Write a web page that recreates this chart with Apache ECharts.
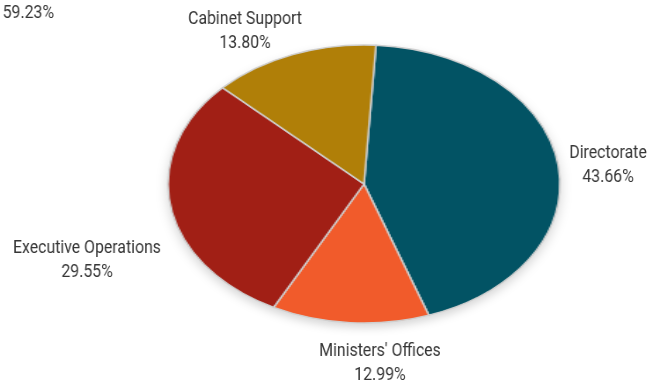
<!DOCTYPE html>
<html>
<head>
<meta charset="utf-8">
<script src="https://cdn.jsdelivr.net/npm/echarts@6/dist/echarts.min.js"></script>
<style>
  html, body { margin: 0; padding: 0; background: #ffffff; }
  #wrap { position: relative; width: 657px; height: 388px; overflow: hidden; }
  #pie, #labels { position: absolute; left: 0; top: 0; width: 657px; height: 388px; }
  /* the disc is drawn as a circle and widened into an ellipse */
  #pie {
    transform: scaleX(1.41);
    transform-origin: 364px 184px;
    filter: drop-shadow(0 4px 4px rgba(0,0,0,0.16));
  }
  /* labels are set in a condensed cut */
  #labels { width: 750px; transform: scaleX(0.88); transform-origin: 0 0; }
</style>
</head>
<body>
<div id="wrap">
  <div id="pie"></div>
  <div id="labels"></div>
</div>
<script>
// Budget share by area (percent)
const categories = ['Directorate', "Ministers' Offices", 'Executive Operations', 'Cabinet Support'];
const shares = [43.66, 12.99, 29.55, 13.80];
const sliceColors = ['#025364', '#F15B2B', '#A11F15', '#B07F08'];
const strayLabel = '59.23%';

const FONT = 'Roboto, "DejaVu Sans", sans-serif';
const CX = 364, CY = 184, R = 139;
const START = 86.5;
const SQUEEZE = 0.88;

// centres of the label blocks, one per category (screen pixels)
const labelAnchors = [[608, 165], [380, 363], [87, 260], [245, 31]];

const sliceData = categories.map((name, i) => ({
  name: name,
  value: shares[i],
  itemStyle: { color: sliceColors[i] }
}));
const labelData = categories.map((name, i) => ({ name: name, value: shares[i] }));

const pieChart = echarts.init(document.getElementById('pie'), null, { renderer: 'canvas' });
pieChart.setOption({
  animation: false,
  series: [{
    type: 'pie',
    center: [CX, CY],
    radius: R,
    startAngle: START,
    clockwise: true,
    label: { show: false },
    labelLine: { show: false },
    itemStyle: { borderColor: '#cfcfcf', borderWidth: 1.3 },
    data: sliceData
  }]
});

// invisible twin of the pie that only carries the text labels
const labelChart = echarts.init(document.getElementById('labels'), null, { renderer: 'canvas' });
labelChart.setOption({
  animation: false,
  graphic: [{
    type: 'text',
    x: 54 / SQUEEZE,
    y: 13,
    style: {
      text: strayLabel,
      fill: '#363636',
      font: '18px ' + FONT,
      textAlign: 'right',
      textVerticalAlign: 'middle'
    }
  }],
  series: [{
    type: 'pie',
    silent: true,
    center: [CX / SQUEEZE, CY],
    radius: R,
    startAngle: START,
    clockwise: true,
    itemStyle: { color: 'rgba(0,0,0,0)', borderWidth: 0 },
    labelLine: { show: false },
    label: {
      show: true,
      position: 'outside',
      overflow: 'none',
      formatter: p => p.name + '\n' + p.value.toFixed(2) + '%',
      color: '#363636',
      fontFamily: FONT,
      fontSize: 18,
      lineHeight: 24,
      align: 'center'
    },
    labelLayout: p => ({
      x: labelAnchors[p.dataIndex][0] / SQUEEZE,
      y: labelAnchors[p.dataIndex][1],
      align: 'center',
      verticalAlign: 'middle'
    }),
    data: labelData
  }]
});
</script>
</body>
</html>
